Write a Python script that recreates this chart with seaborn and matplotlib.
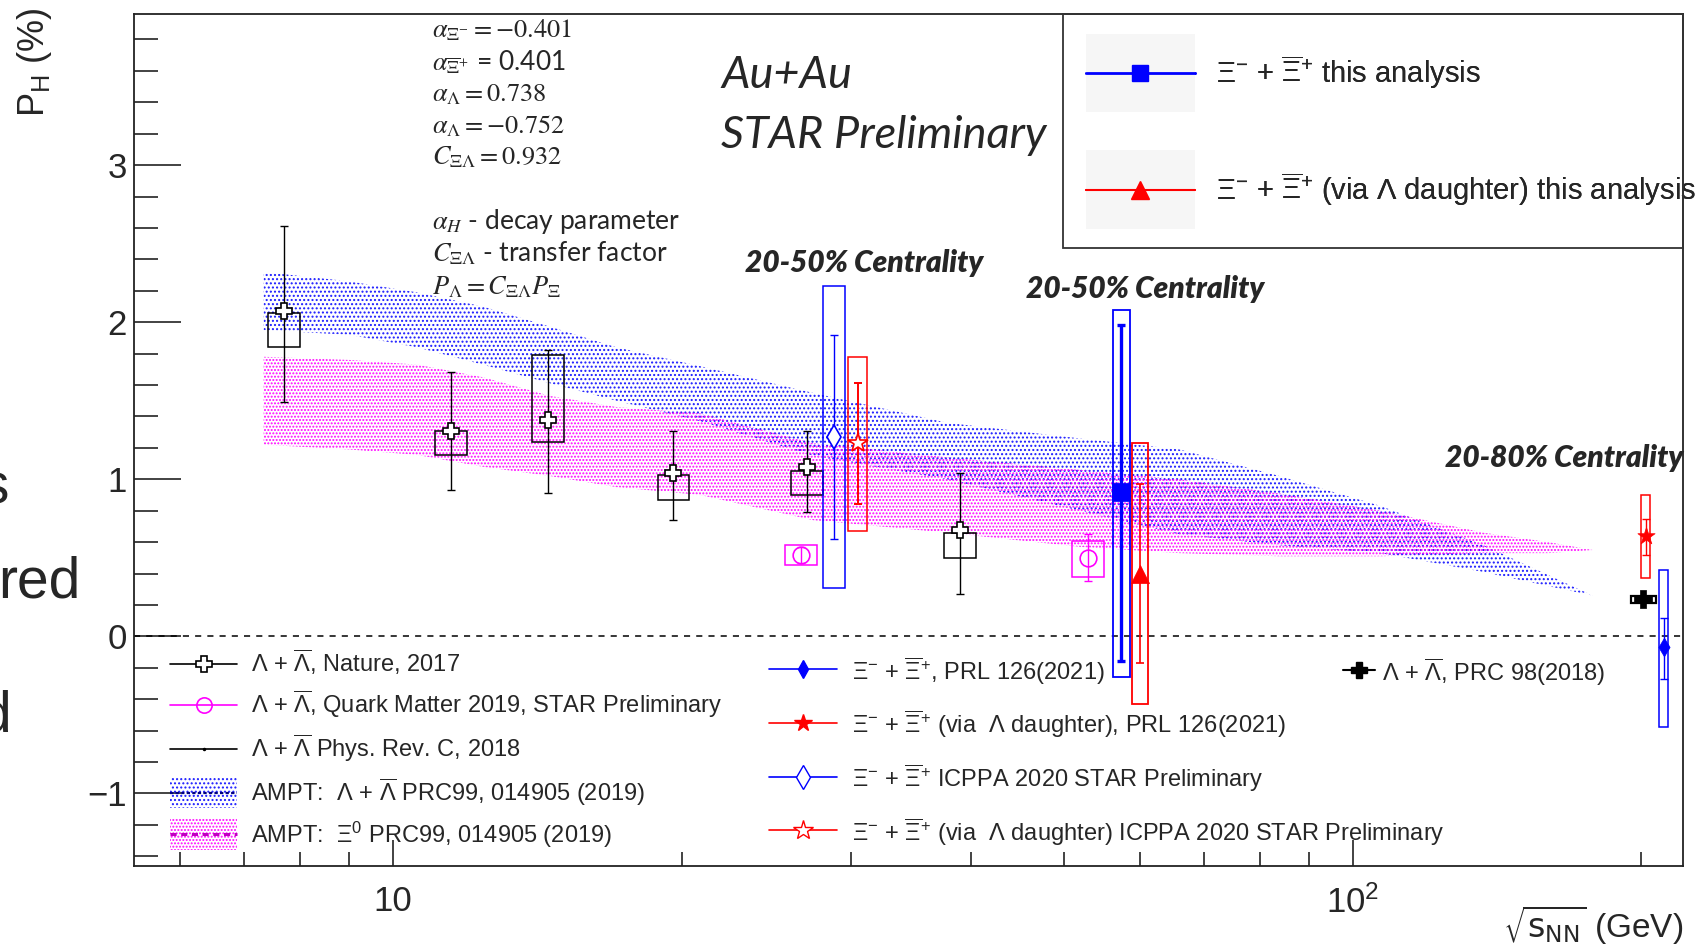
import numpy as np
import matplotlib
matplotlib.use("Agg")
import matplotlib.pyplot as plt
import seaborn as sns
from matplotlib.patches import Rectangle, Patch
from matplotlib.lines import Line2D
from matplotlib.legend_handler import HandlerTuple, HandlerPatch
from matplotlib.font_manager import FontProperties
import matplotlib.ticker as mticker

# ---------------- data ----------------
band_energy = [7.33, 9.0, 10.6, 12.4, 14.6, 17.1, 20.9, 27.4, 37.8, 52.0, 66.0, 84.0, 107.0, 137.0, 160.0, 178.0]
ampt_lambda_hi = [2.32, 2.26, 2.19, 2.10, 1.97, 1.84, 1.72, 1.55, 1.36, 1.26, 1.19, 1.02, 0.83, 0.58, 0.39, 0.26]
ampt_lambda_lo = [1.95, 1.92, 1.84, 1.73, 1.61, 1.50, 1.37, 1.15, 1.00, 0.80, 0.65, 0.58, 0.53, 0.41, 0.32, 0.26]
ampt_xi_hi = [1.78, 1.76, 1.73, 1.65, 1.53, 1.46, 1.42, 1.23, 1.14, 1.06, 1.00, 0.91, 0.80, 0.66, 0.60, 0.55]
ampt_xi_lo = [1.22, 1.19, 1.155, 1.08, 1.02, 0.95, 0.90, 0.74, 0.66, 0.57, 0.53, 0.51, 0.51, 0.53, 0.53, 0.55]

nature_energy = [7.7, 11.5, 14.5, 19.6, 27.0, 39.0]
nature_ph = [2.07, 1.31, 1.38, 1.04, 1.08, 0.68]
nature_stat_minus = [0.58, 0.38, 0.47, 0.30, 0.29, 0.41]
nature_stat_plus = [0.54, 0.37, 0.44, 0.27, 0.23, 0.36]
nature_sys_lo = [1.84, 1.155, 1.24, 0.87, 0.90, 0.50]
nature_sys_hi = [2.06, 1.31, 1.79, 1.03, 1.05, 0.66]

qm_energy = [26.6, 53.0]
qm_ph = [0.52, 0.50]
qm_stat = [0.05, 0.15]
qm_sys_lo = [0.455, 0.38]
qm_sys_hi = [0.58, 0.61]

icppa_xi_energy = [28.8]
icppa_xi_ph = [1.27]
icppa_xi_stat = [0.65]
icppa_xi_sys_lo = [0.31]
icppa_xi_sys_hi = [2.23]

icppa_lam_energy = [30.5]
icppa_lam_ph = [1.23]
icppa_lam_stat_minus = [0.39]
icppa_lam_stat_plus = [0.385]
icppa_lam_sys_lo = [0.67]
icppa_lam_sys_hi = [1.78]

this_xi_energy = [57.4]
this_xi_ph = [0.92]
this_xi_stat_minus = [1.075]
this_xi_stat_plus = [1.06]
this_xi_sys_lo = [-0.26]
this_xi_sys_hi = [2.08]

this_lam_energy = [60.0]
this_lam_ph = [0.40]
this_lam_stat = [0.57]
this_lam_sys_lo = [-0.43]
this_lam_sys_hi = [1.23]

prl_xi_energy = [211.0]
prl_xi_ph = [-0.07]
prl_xi_stat_minus = [0.20]
prl_xi_stat_plus = [0.185]
prl_xi_sys_lo = [-0.575]
prl_xi_sys_hi = [0.42]

prl_lam_energy = [202.0]
prl_lam_ph = [0.64]
prl_lam_stat_minus = [0.12]
prl_lam_stat_plus = [0.11]
prl_lam_sys_lo = [0.37]
prl_lam_sys_hi = [0.90]

prc_energy = [201.0]
prc_ph = [0.24]
prc_stat = [0.02]
prc_sys_lo = [0.21]
prc_sys_hi = [0.26]

y_ticks = [-1, 0, 1, 2, 3]
x_ticks = [10, 100]
x_tick_labels = ["10", r"$10^{2}$"]

# ---------------- style ----------------
sns.set_theme(style="ticks")
plt.rcParams["font.family"] = ["Liberation Sans", "DejaVu Sans"]
plt.rcParams["mathtext.fontset"] = "custom"
plt.rcParams["mathtext.rm"] = "Liberation Sans"
plt.rcParams["mathtext.it"] = "Liberation Sans:italic"
plt.rcParams["mathtext.bf"] = "Liberation Sans:bold"
plt.rcParams["mathtext.sf"] = "Liberation Sans"
plt.rcParams["hatch.linewidth"] = 0.95
plt.rcParams["axes.unicode_minus"] = True

BLUE = "#0000ff"
RED = "#ff0000"
MAG = "#ff00ff"
BAND_BLUE = "#1a1aff"
BAND_MAG = "#ff00ff"

fig = plt.figure(figsize=(17.03, 9.46), dpi=100)
ax = fig.add_axes([0.07868, 0.08457, 0.90957, 0.90063])
ax.set_xscale("log")
ax.set_xlim(5.37, 221.0)
ax.set_ylim(-1.4615, 3.962)

# AMPT bands
ax.fill_between(band_energy, ampt_lambda_lo, ampt_lambda_hi, facecolor="none",
                edgecolor=BAND_BLUE, hatch="....", linewidth=0, zorder=1)
ax.fill_between(band_energy, ampt_xi_lo, ampt_xi_hi, facecolor="none",
                edgecolor=BAND_MAG, hatch=".....", linewidth=0, zorder=1)

ax.axhline(0, color="black", lw=1.1, ls=(0, (4, 4)), zorder=2)


def draw_series(E, val, sm, sp, slo, shi, color, box_w, elw=1.0, blw=1.1, cap=3):
    for e, lo, hi in zip(E, slo, shi):
        x0 = e * 10 ** (-box_w / 2)
        x1 = e * 10 ** (box_w / 2)
        ax.add_patch(Rectangle((x0, lo), x1 - x0, hi - lo, fill=False,
                               ec=color, lw=blw, zorder=3))
    ax.errorbar(E, val, yerr=[sm, sp], fmt="none", ecolor=color,
                elinewidth=elw, capsize=cap, capthick=elw, zorder=4)


def open_markers(E, val, color, marker, ms, mew=1.2):
    ax.plot(E, val, ls="none", marker=marker, ms=ms, mfc="white", mec=color,
            mew=mew, zorder=5)


# Nature 2017
draw_series(nature_energy, nature_ph, nature_stat_minus, nature_stat_plus,
            nature_sys_lo, nature_sys_hi, "black", 0.033)
open_markers(nature_energy, nature_ph, "black", "P", 12)

# Quark Matter 2019
draw_series(qm_energy, qm_ph, qm_stat, qm_stat, qm_sys_lo, qm_sys_hi, MAG, 0.033)
ax.plot(qm_energy, qm_ph, ls="none", marker="o", ms=12, mfc="none", mec=MAG, mew=1.2, zorder=5)

# ICPPA 2020
draw_series(icppa_xi_energy, icppa_xi_ph, icppa_xi_stat, icppa_xi_stat,
            icppa_xi_sys_lo, icppa_xi_sys_hi, BLUE, 0.0226)
open_markers(icppa_xi_energy, icppa_xi_ph, BLUE, "d", 12)
draw_series(icppa_lam_energy, icppa_lam_ph, icppa_lam_stat_minus, icppa_lam_stat_plus,
            icppa_lam_sys_lo, icppa_lam_sys_hi, RED, 0.0195, elw=1.4)
open_markers(icppa_lam_energy, icppa_lam_ph, RED, "*", 15)

# This analysis
draw_series(this_xi_energy, this_xi_ph, this_xi_stat_minus, this_xi_stat_plus,
            this_xi_sys_lo, this_xi_sys_hi, BLUE, 0.0175, elw=2.4, blw=1.3)
sns.scatterplot(x=this_xi_energy, y=this_xi_ph, marker="s", s=150, color=BLUE,
                edgecolor=BLUE, linewidth=0.5, ax=ax, zorder=6, legend=False)
draw_series(this_lam_energy, this_lam_ph, this_lam_stat, this_lam_stat,
            this_lam_sys_lo, this_lam_sys_hi, RED, 0.0165, elw=1.2, blw=1.3)
sns.scatterplot(x=this_lam_energy, y=this_lam_ph, marker="^", s=170, color=RED,
                edgecolor=RED, linewidth=0.5, ax=ax, zorder=6, legend=False)

# 200 GeV
draw_series(prl_lam_energy, prl_lam_ph, prl_lam_stat_minus, prl_lam_stat_plus,
            prl_lam_sys_lo, prl_lam_sys_hi, RED, 0.0097, elw=1.0)
sns.scatterplot(x=prl_lam_energy, y=prl_lam_ph, marker="*", s=170, color=RED,
                edgecolor=RED, linewidth=0.5, ax=ax, zorder=6, legend=False)
draw_series(prc_energy, prc_ph, prc_stat, prc_stat, prc_sys_lo, prc_sys_hi,
            "black", 0.027, elw=1.0, blw=1.6)
sns.scatterplot(x=prc_energy, y=prc_ph, marker="P", s=150, color="black",
                edgecolor="black", linewidth=0.5, ax=ax, zorder=6, legend=False)
draw_series(prl_xi_energy, prl_xi_ph, prl_xi_stat_minus, prl_xi_stat_plus,
            prl_xi_sys_lo, prl_xi_sys_hi, BLUE, 0.0088, elw=1.0)
sns.scatterplot(x=prl_xi_energy, y=prl_xi_ph, marker="d", s=90, color=BLUE,
                edgecolor=BLUE, linewidth=0.5, ax=ax, zorder=6, legend=False)

# ---------------- axes ----------------
for sp in ax.spines.values():
    sp.set_linewidth(1.3)
    sp.set_color("#222222")
ax.set_yticks(y_ticks)
ax.set_yticklabels(["\u22121" if v < 0 else str(v) for v in y_ticks])
ax.yaxis.set_minor_locator(mticker.MultipleLocator(0.2))
ax.xaxis.set_major_locator(mticker.FixedLocator(x_ticks))
ax.xaxis.set_major_formatter(mticker.FixedFormatter(x_tick_labels))
ax.xaxis.set_minor_locator(mticker.LogLocator(base=10, subs=np.arange(2, 10), numticks=20))
ax.xaxis.set_minor_formatter(mticker.NullFormatter())
ax.tick_params(axis="y", which="major", direction="in", length=34, width=1.2,
               labelsize=25, pad=5, left=True, right=False, color="#222222")
ax.tick_params(axis="y", which="minor", direction="in", length=17, width=1.2,
               left=True, right=False, color="#222222")
ax.tick_params(axis="x", which="major", direction="in", length=19, width=1.2,
               labelsize=25, pad=14, bottom=True, top=False, color="#222222")
ax.tick_params(axis="x", which="minor", direction="in", length=10, width=1.2,
               bottom=True, top=False, color="#222222")
ax.grid(False)

fig.text(35 / 1703, 1 - 62 / 946, r"P$_{\mathrm{H}}$ (%)", rotation=90,
         ha="center", va="center", fontsize=26)
fig.text(1683 / 1703, 1 - 925 / 946, r"$\sqrt{\mathrm{s}_{\mathrm{NN}}}$ (GeV)",
         ha="right", va="center", fontsize=24, math_fontfamily="dejavusans")

# ---------------- annotation text ----------------
ann_lines = [
    (r"$\alpha_{\Xi^{-}} = -0.401$", 28),
    (r"$\alpha_{\overline{\Xi}^{+}}$ = 0.401", 61),
    (r"$\alpha_{\Lambda} = 0.738$", 92),
    (r"$\alpha_{\Lambda} = -0.752$", 124),
    (r"$C_{\Xi\Lambda} = 0.932$", 155),
    (r"$\alpha_{H}$ - decay parameter", 220),
    (r"$C_{\Xi\Lambda}$ - transfer factor", 252),
    (r"$P_{\Lambda} = C_{\Xi\Lambda}P_{\Xi}$", 285),
]
for txt, ypx in ann_lines:
    fig.text(432 / 1703, 1 - (ypx + 9) / 946, txt, ha="left", va="baseline",
             fontsize=19, family="Lato", math_fontfamily="stix")

fig.text(721 / 1703, 1 - 76 / 946, "Au+Au", ha="left", va="center",
         fontsize=32.5, family="Lato", style="italic")
fig.text(721 / 1703, 1 - 135 / 946, "STAR Preliminary", ha="left", va="center",
         fontsize=32.5, family="Lato", style="italic")
cent_kw = dict(fontsize=21.5, family="Lato", style="italic", weight="heavy", va="center")
fig.text(745 / 1703, 1 - 263 / 946, "20-50% Centrality", ha="left", **cent_kw)
fig.text(1026 / 1703, 1 - 289 / 946, "20-50% Centrality", ha="left", **cent_kw)
fig.text(1683 / 1703, 1 - 458 / 946, "20-80% Centrality", ha="right", **cent_kw)

# cut-off slide text at the left border
side_kw = dict(fontsize=41, family="Liberation Sans", ha="right", va="center")
fig.text(9 / 1703, 1 - 488 / 946, "s", **side_kw)
fig.text(81 / 1703, 1 - 582 / 946, "red", **side_kw)
fig.text(11 / 1703, 1 - 716 / 946, "d", **side_kw)
fig.text(24 / 1703, 1 - 968 / 946, "e", **side_kw)


# ---------------- legends ----------------
def centered_box(scale):
    """Legend patch centred on the handle's line, `scale` font sizes tall."""
    def _make(legend, orig_handle, xdescent, ydescent, width, height, fontsize):
        yc = (height - ydescent) / 2
        hgt = scale * fontsize
        return Rectangle((-xdescent, yc - hgt / 2), width, hgt)
    return HandlerPatch(patch_func=_make)


fp_leg = FontProperties(family="Liberation Sans", size=17)

hatch_blue = Patch(fc="none", ec=BAND_BLUE, hatch="....", lw=0)
hatch_mag = Patch(fc="none", ec=BAND_MAG, hatch=".....", lw=0)
h_left = [
    Line2D([], [], color="black", lw=1.2, marker="P", ms=12, mfc="white", mec="black", mew=1.2),
    Line2D([], [], color=MAG, lw=1.2, marker="o", ms=11, mfc="none", mec=MAG, mew=1.2),
    Line2D([], [], color="black", lw=1.2, marker=".", ms=3),
    (hatch_blue, Line2D([], [], color="#000080", lw=1.6, ls=(0, (1.5, 1)))),
    (hatch_mag, Line2D([], [], color="#c000c0", lw=2.2, ls=(0, (2, 1.5)))),
]
l_left = [
    r"$\Lambda$ + $\overline{\Lambda}$, Nature, 2017",
    r"$\Lambda$ + $\overline{\Lambda}$, Quark Matter 2019, STAR Preliminary",
    r"$\Lambda$ + $\overline{\Lambda}$ Phys. Rev. C, 2018",
    r"AMPT:  $\Lambda$ + $\overline{\Lambda}$ PRC99, 014905 (2019)",
    r"AMPT:  $\Xi^{0}$ PRC99, 014905 (2019)",
]
map_left = {tuple: HandlerTuple(ndivide=1, pad=0),
            hatch_blue: centered_box(1.3), hatch_mag: centered_box(1.3)}
leg1 = ax.legend(h_left, l_left, loc="upper left", bbox_to_anchor=(170 / 1703, 1 - 647 / 946),
                 bbox_transform=fig.transFigure, frameon=False, prop=fp_leg,
                 handlelength=2.85, handletextpad=0.6,
                 labelspacing=0.5, borderpad=0, borderaxespad=0, handler_map=map_left)
ax.add_artist(leg1)

h_mid = [
    Line2D([], [], color=BLUE, lw=1.2, marker="d", ms=9, mfc=BLUE, mec=BLUE),
    Line2D([], [], color=RED, lw=1.2, marker="*", ms=13, mfc=RED, mec=RED),
    Line2D([], [], color=BLUE, lw=1.2, marker="d", ms=12, mfc="white", mec=BLUE),
    Line2D([], [], color=RED, lw=1.2, marker="*", ms=15, mfc="white", mec=RED),
]
xi = r"$\Xi^{-}$ + $\overline{\Xi}^{+}$"
l_mid = [
    xi + ", PRL 126(2021)",
    xi + r" (via  $\Lambda$ daughter), PRL 126(2021)",
    xi + " ICPPA 2020 STAR Preliminary",
    xi + r" (via  $\Lambda$ daughter) ICPPA 2020 STAR Preliminary",
]
leg2 = ax.legend(h_mid, l_mid, loc="upper left", bbox_to_anchor=(769 / 1703, 1 - 655 / 946),
                 bbox_transform=fig.transFigure, frameon=False, prop=fp_leg,
                 handlelength=2.9, handleheight=1.3, handletextpad=0.6,
                 labelspacing=0.92, borderpad=0, borderaxespad=0)
ax.add_artist(leg2)

h_right = [Line2D([], [], color="black", lw=1.5, marker="P", ms=12, mfc="black", mec="black")]
l_right = [r"$\Lambda$ + $\overline{\Lambda}$, PRC 98(2018)"]
leg3 = ax.legend(h_right, l_right, loc="upper left", bbox_to_anchor=(1343 / 1703, 1 - 656 / 946),
                 bbox_transform=fig.transFigure, frameon=False, prop=fp_leg,
                 handlelength=1.35, handleheight=1.3, handletextpad=0.3,
                 borderpad=0, borderaxespad=0)
ax.add_artist(leg3)

fp_top = FontProperties(family="Liberation Sans", size=21)
gray1 = Patch(fc="#f6f6f6", ec="none")
gray2 = Patch(fc="#f6f6f6", ec="none")
h_top = [
    (gray1, Line2D([], [], color=BLUE, lw=2, marker="s", ms=12, mfc=BLUE, mec=BLUE)),
    (gray2, Line2D([], [], color=RED, lw=1.5, marker="^", ms=13, mfc=RED, mec=RED)),
]
l_top = [xi + " this analysis", xi + r" (via $\Lambda$ daughter) this analysis"]
map_top = {tuple: HandlerTuple(ndivide=1, pad=0),
           gray1: centered_box(2.7), gray2: centered_box(2.7)}
leg4 = ax.legend(h_top, l_top, loc="upper left", bbox_to_anchor=(1086 / 1703, 1 - 54 / 946),
                 bbox_transform=fig.transFigure, frameon=False, prop=fp_top,
                 handlelength=3.72, handletextpad=0.74,
                 labelspacing=2.72, borderpad=0, borderaxespad=0, handler_map=map_top)
ax.add_artist(leg4)
ax.add_patch(Rectangle((0.5997, 0.7254), 0.4003, 0.2746, transform=ax.transAxes,
                       fill=False, ec="#333333", lw=1.3, zorder=10, clip_on=False))

fig.savefig("out.png", dpi=100)
